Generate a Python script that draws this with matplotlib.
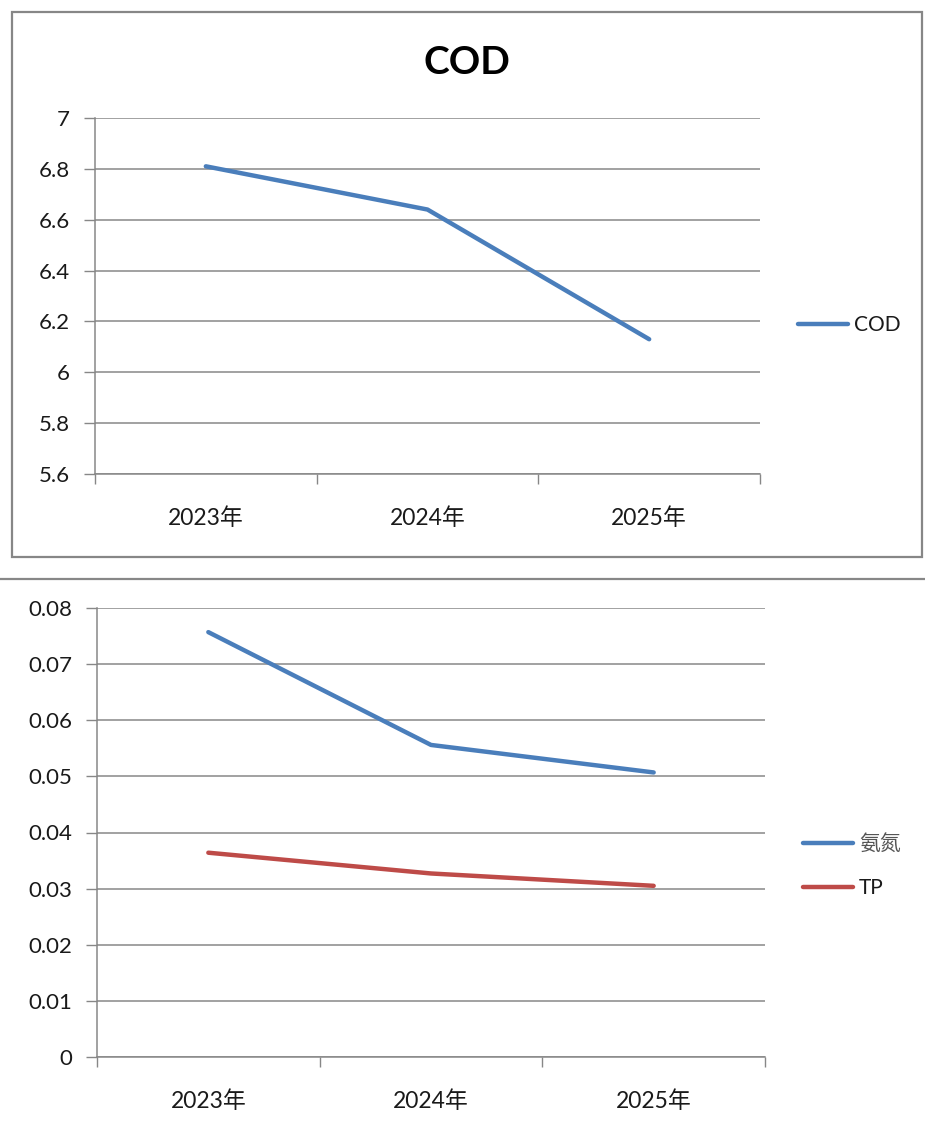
import matplotlib.pyplot as plt
from matplotlib.lines import Line2D
from matplotlib.patches import Rectangle
from matplotlib.ticker import FixedLocator

plt.rcParams['font.family'] = ['Lato', 'Noto Sans CJK SC', 'DejaVu Sans']

# 数据
years = ['2023年', '2024年', '2025年']
cod = [6.81, 6.64, 6.13]
nh3n = [0.0757, 0.0556, 0.0507]
tp = [0.0364, 0.0327, 0.0305]

cod_ticks = [5.6, 5.8, 6, 6.2, 6.4, 6.6, 6.8, 7]
cod_labels = ['5.6', '5.8', '6', '6.2', '6.4', '6.6', '6.8', '7']
low_ticks = [0, 0.01, 0.02, 0.03, 0.04, 0.05, 0.06, 0.07, 0.08]
low_labels = ['0', '0.01', '0.02', '0.03', '0.04', '0.05', '0.06', '0.07', '0.08']

blue = '#4a7ebb'
red = '#be4b48'
grey = '#878787'
txt = '#1a1a1a'

fig = plt.figure(figsize=(9.25, 11.4), dpi=100)


def style_axes(ax, ticks, labels):
    x = range(len(years))
    ax.set_xlim(-0.5, len(years) - 0.5)
    ax.set_ylim(ticks[0], ticks[-1])
    ax.set_yticks(ticks)
    ax.set_yticklabels(labels)
    ax.set_xticks(list(x))
    ax.set_xticklabels(years)
    ax.xaxis.set_minor_locator(FixedLocator([i - 0.5 for i in range(len(years) + 1)]))
    ax.tick_params(axis='x', which='major', length=0, pad=24, labelsize=16.5, labelcolor=txt)
    ax.tick_params(axis='x', which='minor', length=7, color=grey, width=1)
    ax.tick_params(axis='y', length=8, color=grey, width=1, pad=10, labelsize=16, labelcolor=txt)
    ax.grid(axis='y', color=grey, linewidth=1.1)
    ax.set_axisbelow(True)
    for s in ['top', 'right']:
        ax.spines[s].set_visible(False)
    for s in ['left', 'bottom']:
        ax.spines[s].set_color(grey)
        ax.spines[s].set_linewidth(1.1)


# 上图 COD
ax1 = fig.add_axes([95 / 925, 1 - 474 / 1140, 665 / 925, 356 / 1140])
ax1.plot(range(len(years)), cod, color=blue, lw=3.2, label='COD', solid_capstyle='round')
style_axes(ax1, cod_ticks, cod_labels)
fig.text(467 / 925, 1 - 62 / 1140, 'COD', ha='center', va='center', fontsize=28,
         fontweight='bold', color='black')
ax1.legend(loc='center left', bbox_to_anchor=(779 / 925, 1 - 325 / 1140),
           bbox_transform=fig.transFigure, frameon=False, fontsize=15,
           handlelength=2.4, handletextpad=0.3, labelcolor=txt)

# 外框
fig.add_artist(Rectangle((12 / 925, 1 - 557 / 1140), 910 / 925, 545 / 1140,
                         transform=fig.transFigure, fill=False, edgecolor=grey, lw=1.6))
fig.add_artist(Line2D([0, 1], [1 - 579 / 1140, 1 - 579 / 1140],
                      transform=fig.transFigure, color=grey, lw=1.6))

# 下图 氨氮 / TP
ax2 = fig.add_axes([97 / 925, 1 - 1057 / 1140, 668 / 925, 449 / 1140])
ax2.plot(range(len(years)), nh3n, color=blue, lw=3.2, label='氨氮', solid_capstyle='round')
ax2.plot(range(len(years)), tp, color=red, lw=3.2, label='TP', solid_capstyle='round')
style_axes(ax2, low_ticks, low_labels)
leg = ax2.legend(loc='center left', bbox_to_anchor=(784 / 925, 1 - 866 / 1140),
                 bbox_transform=fig.transFigure, frameon=False, fontsize=15,
                 handlelength=2.4, handletextpad=0.3, labelspacing=1.15)
leg.get_texts()[0].set_color('#555555')
leg.get_texts()[1].set_color(txt)

plt.savefig('out.png', dpi=100, facecolor='white')
